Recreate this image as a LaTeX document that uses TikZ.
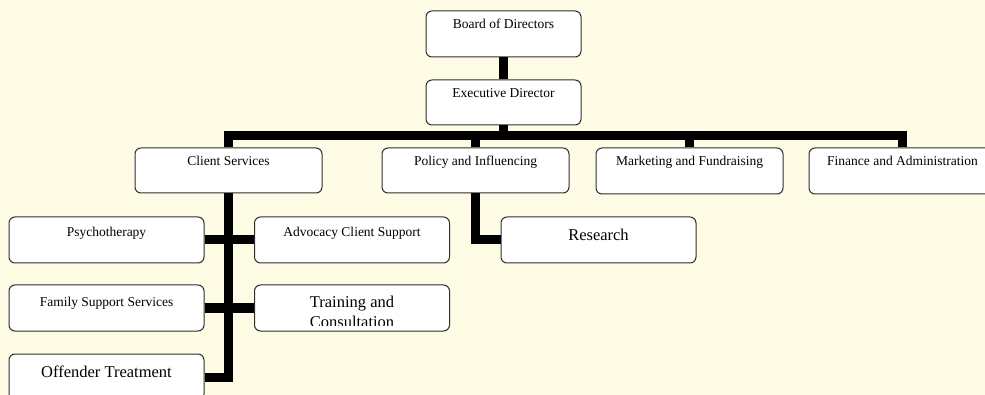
\documentclass[tikz,border=0pt]{standalone}
\usepackage{fontspec}
\setmainfont{Liberation Serif}
\usepackage{tikz}
\definecolor{paper}{HTML}{FFFCE6}
\definecolor{boxline}{HTML}{2E2E2E}

\begin{document}
\begin{tikzpicture}[x=1pt,y=-1pt,
    unit/.style={draw=boxline, line width=1pt, fill=white, rounded corners=6pt,
        inner sep=0pt, minimum width=187pt, text height=18pt, text depth=28pt,
        font=\fontsize{13.5}{16}\selectfont},
    subunit/.style={unit, minimum width=195pt, text height=20pt, text depth=26pt},
    bigunit/.style={unit, minimum width=195pt, text height=24pt, text depth=22pt,
        font=\fontsize{16.5}{19}\selectfont},
    trunk/.style={line width=9pt, black}]

    \useasboundingbox (0,0) rectangle (985,395);
    \clip (0,0) rectangle (985,395);
    \fill[paper] (0,0) rectangle (985,395);

    \draw (503.5,34) 
		node[unit, minimum width=155pt] 
			(Board of Directors) {Board of Directors};

    \draw (503.5,102.5) 
		node[unit, minimum width=155pt, text depth=27pt] 
			(Executive Director) {Executive Director};

    \draw (228.5,170.5) 
		node[unit, text depth=27pt] 
			(Client Services) {Client Services};

    \draw (475.5,170.5) 
		node[unit, text depth=27pt] 
			(Policy and Influencing) {Policy and Influencing};

    \draw (689.5,171) 
		node[unit] 
			(Marketing and Fundraising) {Marketing and Fundraising};

    \draw (902.5,171) 
		node[unit] 
			(Finance and Administration) {Finance and Administration};

    \draw (106.5,240) 
		node[subunit] 
			(Psychotherapy) {Psychotherapy};

    \draw (352,240) 
		node[subunit] 
			(Advocacy Client Support) {Advocacy Client Support};

    \draw (106.5,308) 
		node[subunit, text height=22pt, text depth=24pt] 
			(Family Support Services) {Family Support Services};

    \draw (352,308) 
		node[subunit, text height=0pt, text depth=46pt] 
			(Training and Consultation) {};

    \draw (106.5,377) 
		node[bigunit, text height=23pt, text depth=23pt] 
			(Offender Treatment) {Offender Treatment};

    \draw (598.5,240) 
		node[bigunit] 
			(Research) {Research};

    % second line is cut off by the box
    \begin{scope}
        \clip (256,286) rectangle (448,325);
        \draw (352,308) 
            node[anchor=base, inner sep=0pt, font=\fontsize{16.5}{19}\selectfont] 
                (Training line) {Training and};
        \draw (352,327) 
            node[anchor=base, inner sep=0pt, font=\fontsize{16.5}{19}\selectfont] 
                (Consultation line) {Consultation};
    \end{scope}

	\coordinate (bus) at (0,136);

	\draw[trunk] (Board of Directors.south) -- (Executive Director.north);
	\draw[trunk] (Executive Director.south) -- (Executive Director.south |- bus);
	\draw[trunk] (Client Services.north) |- (bus -| Finance and Administration.north) 
		-- (Finance and Administration.north);
	\draw[trunk] (Policy and Influencing.north) -- (Policy and Influencing.north |- bus);
	\draw[trunk] (Marketing and Fundraising.north) -- (Marketing and Fundraising.north |- bus);

	\draw[trunk] (Client Services.south) |- (Offender Treatment.east);
	\draw[trunk] (Psychotherapy.east) -- (Advocacy Client Support.west);
	\draw[trunk] (Family Support Services.east) -- (Training and Consultation.west);

	\draw[trunk] (Policy and Influencing.south) |- (Research.west);

	\end{tikzpicture}
\end{document}
